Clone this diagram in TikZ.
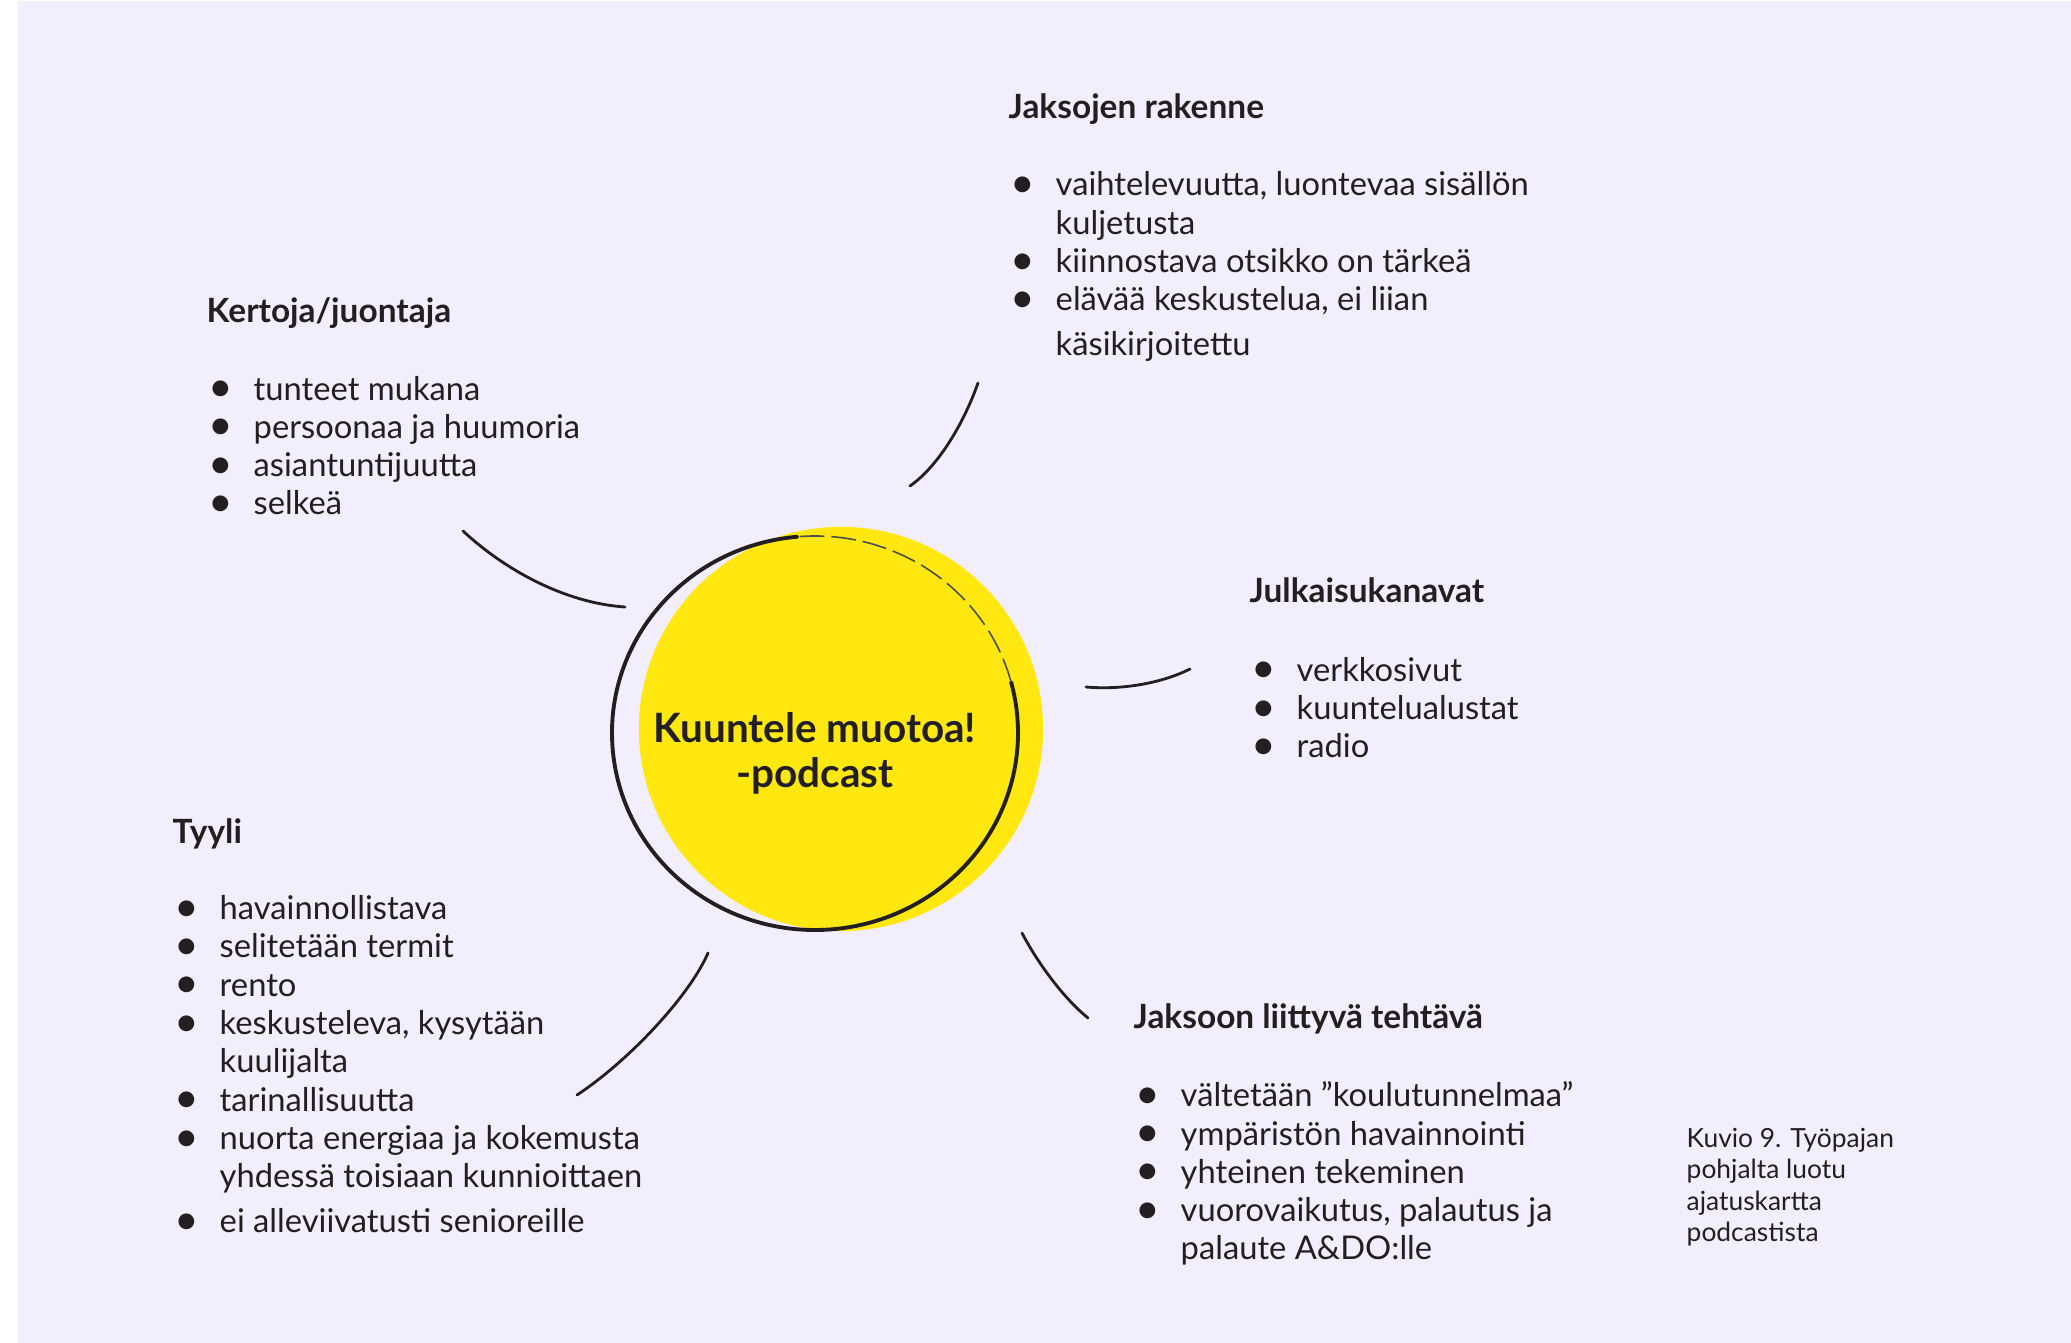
\documentclass[tikz,border=0pt]{standalone}
\usepackage{fontspec}
\setmainfont{Lato}
\usepackage{tikz}
\usetikzlibrary{positioning}

\definecolor{lavender}{RGB}{242,238,253}
\definecolor{sunny}{RGB}{254,232,15}
\definecolor{ink}{RGB}{35,31,32}

\newcommand{\bul}{\makebox[0.47cm][l]{\hspace{0.02cm}\raisebox{-0.4pt}{\scalebox{1.3}{\textbullet}}}}
\newcommand{\cont}{\hspace*{0.47cm}}

\begin{document}
\begin{tikzpicture}[
    x=0.01cm, y=-0.01cm,
    every node/.style={inner sep=0pt, text=ink},
    head/.style={anchor=base west, font=\fontsize{9.5}{11}\selectfont\bfseries},
    items/.style={anchor=base west, align=left, font=\fontsize{9.3}{10.9}\selectfont},
    stroke/.style={draw=ink, line width=0.8pt, line cap=round}
]
    \useasboundingbox (0,0) rectangle (2071,1343);
    \fill[lavender] (18,1) rectangle (2071,1343);

    % keskusta
    \node[circle, fill=sunny, minimum size=4.04cm] (sun) at (841,729) {};
    \draw[ink, line width=1.1pt, line cap=round] (815,733) ++(-95:203 and 197)
        arc[start angle=-95, end angle=-375, x radius=203, y radius=197];
    \draw[ink!80, line width=0.45pt, dashed, dash pattern=on 7pt off 2pt] (815,733) ++(-15:203 and 197)
        arc[start angle=-15, end angle=-95, x radius=203, y radius=197];
    \node[anchor=base, align=center, font=\fontsize{11.5}{12.8}\selectfont\bfseries] (podcast) at (815,788)
        {Kuuntele muotoa!\\-podcast};

    % otsikot
    \node[head] (kertoja) at (206,323) {Kertoja/juontaja};
    \node[head] (rakenne) at (1008,119) {Jaksojen rakenne};
    \node[head] (kanavat) at (1249,603) {Julkaisukanavat};
    \node[head] (tyyli) at (172,844) {Tyyli};
    \node[head] (tehtava) at (1133,1029) {Jaksoon liittyvä tehtävä};

    % listat (ankkuri = viimeisen rivin peruslinja)
    \node[items] (kertojalist) at (206,515) {\bul tunteet mukana\\ \bul persoonaa ja huumoria\\
        \bul asiantuntijuutta\\ \bul selkeä};
    \node[items] (rakennelist) at (1008,356) {\bul vaihtelevuutta, luontevaa sisällön\\ \cont kuljetusta\\
        \bul kiinnostava otsikko on tärkeä\\ \bul elävää keskustelua, ei liian\\[1.9pt] \cont käsikirjoitettu};
    \node[items] (kanavatlist) at (1249,758) {\bul verkkosivut\\ \bul kuuntelualustat\\ \bul radio};
    \node[items] (tyylilist) at (172,1233) {\bul havainnollistava\\ \bul selitetään termit\\ \bul rento\\
        \bul keskusteleva, kysytään\\ \cont kuulijalta\\ \bul tarinallisuutta\\
        \bul nuorta energiaa ja kokemusta\\ \cont yhdessä toisiaan kunnioittaen\\[1.9pt]
        \bul ei alleviivatusti senioreille};
    \node[items] (tehtavalist) at (1133,1260) {\bul vältetään ”koulutunnelmaa”\\ \bul ympäristön havainnointi\\
        \bul yhteinen tekeminen\\ \bul vuorovaikutus, palautus ja\\ \cont palaute A\&DO:lle};

    \node[anchor=base west, align=left, font=\fontsize{7.5}{9}\selectfont] (kuvio) at (1686,1242)
        {Kuvio 9. Työpajan\\ pohjalta luotu\\ ajatuskartta\\ podcastista};

    % viivat
    \coordinate (kj1) at (463,531);  \coordinate (kj2) at (625,607);
    \coordinate (jr1) at (978,383);  \coordinate (jr2) at (910,486);
    \coordinate (jk1) at (1086,687); \coordinate (jk2) at (1190,669);
    \coordinate (jt1) at (1022,933); \coordinate (jt2) at (1088,1018);
    \coordinate (ty1) at (708,953);  \coordinate (ty2) at (577,1095);
    \draw[stroke] (kj1) .. controls (505,570) and (565,603) .. (kj2);
    \draw[stroke] (jr1) .. controls (965,420) and (940,465) .. (jr2);
    \draw[stroke] (jk1) .. controls (1120,690) and (1160,684) .. (jk2);
    \draw[stroke] (jt1) .. controls (1035,958) and (1060,995) .. (jt2);
    \draw[stroke] (ty1) .. controls (690,995) and (630,1060) .. (ty2);
\end{tikzpicture}
\end{document}
